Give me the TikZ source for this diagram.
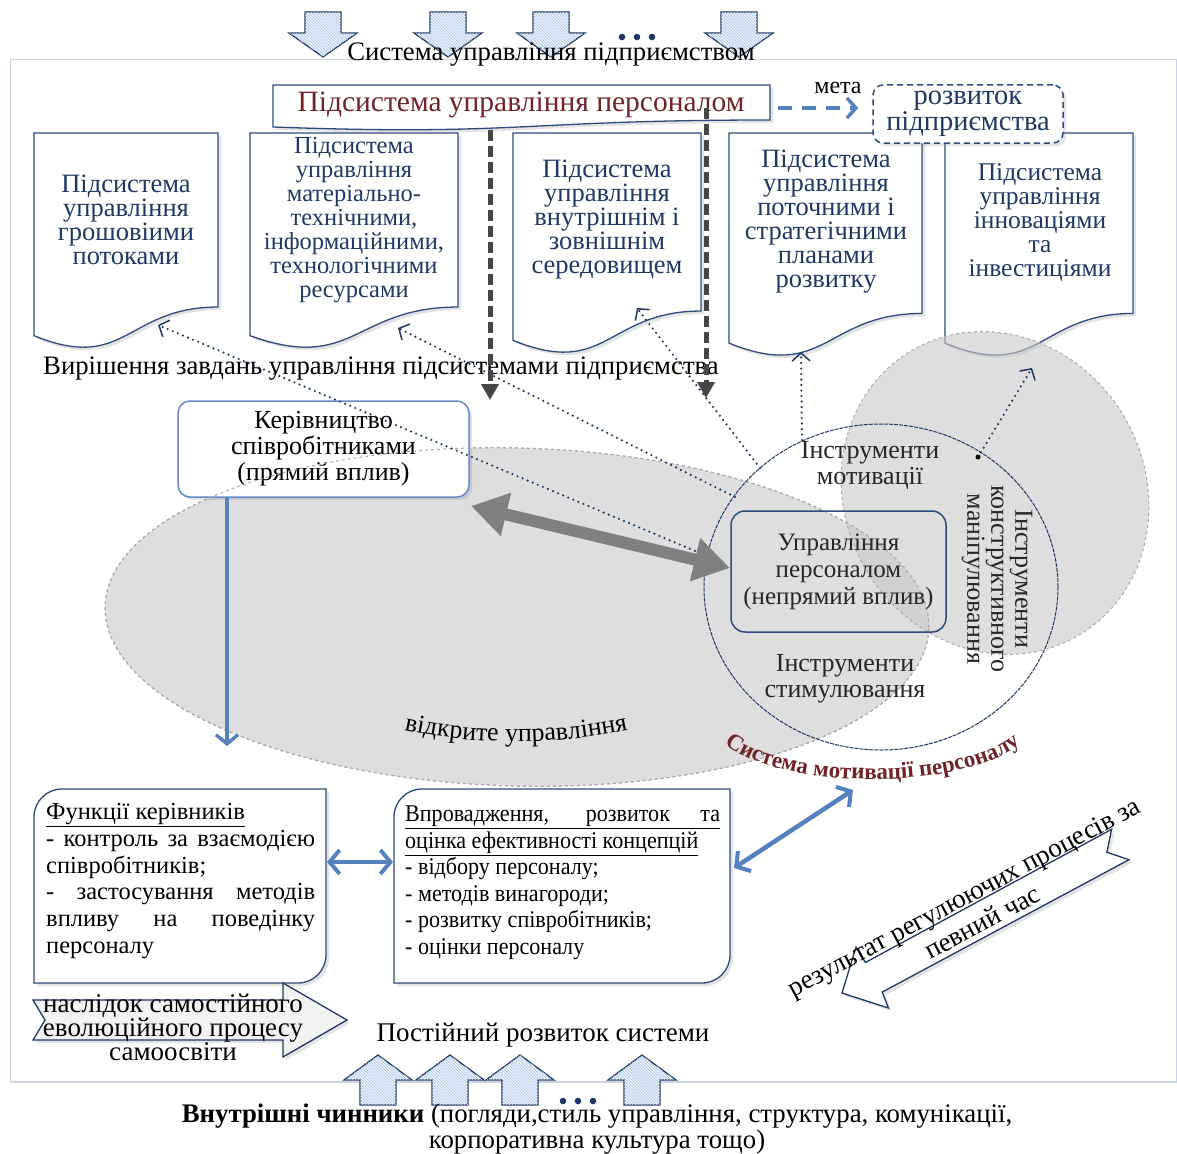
\documentclass[tikz,border=0pt]{standalone}
\usepackage{fontspec}
\setmainfont{Liberation Serif}
\newfontfamily\condfont[FakeStretch=0.92]{Liberation Serif}
\usetikzlibrary{arrows.meta,patterns,decorations.text,shadows}
\definecolor{dnavy}{RGB}{31,56,100}
\definecolor{bnavy}{RGB}{45,75,125}
\definecolor{lblue}{RGB}{84,130,190}
\definecolor{kblue}{RGB}{95,140,200}
\definecolor{dred}{RGB}{112,36,40}
\definecolor{ellgray}{RGB}{200,200,200}
\definecolor{elldraw}{RGB}{170,170,170}
\definecolor{dgray}{RGB}{70,70,70}
\definecolor{mgray}{RGB}{128,128,128}
\definecolor{hatchbg}{RGB}{236,242,250}
\definecolor{hatchln}{RGB}{170,195,225}
\definecolor{framec}{RGB}{200,212,230}
\definecolor{arrbg}{RGB}{242,242,242}
\newcommand\fsz[2]{\fontsize{#1}{#2}\selectfont}
\newcommand\docshape[4]{\draw[docbox] (#1,#3) -- (#2,#3) -- (#2,{#3+0.802*#4}) .. controls ({(#1+#2)/2},{#3+0.802*#4}) and ({(#1+#2)/2},{#3+1.107*#4}) .. (#1,{#3+0.934*#4}) -- cycle;}
\newcommand\blkdown[2]{\draw[blk] ({#1-18},#2) -- ({#1+18},#2) -- ({#1+18},{#2+21}) -- ({#1+34},{#2+21}) -- (#1,{#2+45}) -- ({#1-34},{#2+21}) -- ({#1-18},{#2+21}) -- cycle;}
\newcommand\blkup[2]{\draw[blk] ({#1-18},#2) -- ({#1+18},#2) -- ({#1+18},{#2-25}) -- ({#1+34},{#2-25}) -- (#1,{#2-50}) -- ({#1-34},{#2-25}) -- ({#1-18},{#2-25}) -- cycle;}
\tikzset{
  blk/.style={draw=dnavy, line width=1.3pt, fill=hatchbg, postaction={pattern=north west lines, pattern color=hatchln}},
  shad/.style={drop shadow={opacity=0.22, shadow xshift=3pt, shadow yshift=-3pt}},
  docbox/.style={draw=bnavy, line width=1.3pt, fill=white, shad},
  doctext/.style={text=dnavy, align=center, font=\fsz{26.5}{24}},
  plaintext/.style={text=black, align=center, font=\fsz{26}{26}},
  dotarr/.style={dnavy, line width=2.4pt, line cap=round, dash pattern=on 0pt off 5.5pt, -{Straight Barb[length=8pt,width=18pt,line width=1.5pt]}},
  gdash/.style={dgray, line width=5pt, dash pattern=on 11pt off 5pt, -{Triangle[length=16pt,width=17pt]}},
  bluearr/.style={lblue, line width=4.5pt, {Straight Barb[length=10pt,width=24pt,line width=4pt]}-{Straight Barb[length=10pt,width=24pt,line width=4pt]}},
  ell/.style={fill=ellgray, fill opacity=0.6, draw=elldraw, dashed, line width=1pt}
}
\begin{document}
\begin{tikzpicture}[x=1pt,y=-1pt]
\useasboundingbox (0,0) rectangle (1177,1153);
% frame
\draw[framec, line width=1pt, fill=white, drop shadow={opacity=0.35, shadow xshift=1pt, shadow yshift=-2pt}] (10,60) rectangle (1176,1081);
% top arrows
\blkdown{323}{12}
\blkdown{448}{12}
\blkdown{551}{12}
\blkdown{739}{12}
\foreach \xx in {622,637,652} \fill[dnavy] (\xx,37) circle (3.3pt);
\node[plaintext, font=\fsz{26.7}{27}] (sysent) at (551,55) {Система управління підприємством};
% documents
\docshape{34}{218}{133}{217}
\docshape{250}{458}{133}{217}
\docshape{513}{701}{133}{222}
\docshape{729}{922}{133}{225}
\docshape{945}{1133}{133}{225}
\node[doctext] (d1t) at (126,220) {Підсистема\\управління\\грошовіими\\потоками};
\node[doctext, font=\fsz{24.5}{24}] (d2t) at (354,220) {Підсистема\\управління\\матеріально-\\технічними,\\інформаційними,\\технологічними\\ресурсами};
\node[doctext] (d3t) at (607,220) {Підсистема\\управління\\внутрішнім і\\зовнішнім\\середовищем};
\node[doctext] (d4t) at (826,222) {Підсистема\\управління\\поточними і\\стратегічними\\планами\\розвитку};
\node[doctext, font=\fsz{25.5}{24}] (d5t) at (1040,223) {Підсистема\\управління\\інноваціями\\та\\інвестиціями};
% personnel subsystem box
\draw[docbox] (273,85) -- (770,85) -- (770,120) .. controls (521,120) and (521,136) .. (273,127) -- cycle;
\node[font=\fsz{29.5}{30}, text=dred] (hrsub) at (521,105) {Підсистема управління персоналом};
% goal
\node[draw=bnavy, dash pattern=on 6pt off 4pt, line width=1.5pt, rounded corners=10pt, minimum width=190pt, minimum height=58pt, inner sep=1pt, align=center, text=dnavy, font=\fsz{28.5}{26}, fill=white, shad] (goal) at (968,114) {розвиток\\підприємства};
\node[font=\fsz{24}{24}] (meta) at (838,88) {мета};
\coordinate (hrR) at (778,108);
\draw[lblue, line width=4pt, dash pattern=on 14pt off 10pt, shorten >=14pt, -{Straight Barb[length=9pt,width=20pt,line width=3.5pt]}] (hrR) -- (hrR -| goal.west);
% ellipses
\draw[ell, rotate around={-1.5:(517,617)}] (517,617) ellipse [x radius=412pt, y radius=169pt];
\draw[ell, rotate around={30:(995,493)}] (995,493) ellipse [x radius=150pt, y radius=165pt];
% direct management box
\node[draw=kblue, line width=1.5pt, rounded corners=12pt, fill=white, minimum width=291pt, minimum height=96pt, align=center, font=\fsz{26}{26}, shad] (ker) at (323.5,449) {Керівництво\\співробітниками\\(прямий вплив)};
\draw[elldraw, dashed, line width=1pt, rotate around={-1.5:(517,617)}] (517,617) ellipse [x radius=412pt, y radius=169pt];
% motivation circle
\draw[dnavy, line width=1pt, dash pattern=on 4pt off 1pt] (881,587) ellipse [x radius=177pt, y radius=163pt];
\node[draw=bnavy, line width=1.5pt, rounded corners=14pt, minimum width=215pt, minimum height=121pt, align=center, font=\fsz{25}{27}, text=black!85] (upr) at (838.5,571.5) {Управління\\персоналом\\(непрямий вплив)};
\node[plaintext, text=black!85] (imot) at (870,465) {Інструменти\\мотивації};
\node[plaintext, text=black!85] (istim) at (845,679) {Інструменти\\стимулювання};
\node[plaintext, text=black!85, rotate=-90, font=\fsz{26}{24}] (imanip) at (997,579) {Інструменти\\конструктивного\\маніпулювання};
% tasks text
\node[plaintext, font=\fsz{26.7}{27}] (tasks) at (381,369) {Вирішення завдань управління підсистемами підприємства};
% gray dashed arrows
\coordinate (g1s) at (490,130); \coordinate (g1e) at (490,400);
\coordinate (g2s) at (706,108); \coordinate (g2e) at (706,398);
\draw[gdash] (g1s) -- (g1e);
\draw[gdash] (g2s) -- (g2e);
% dotted arrows
\coordinate (t1) at (158,325); \coordinate (s1) at (700,553);
\coordinate (t2) at (398,328); \coordinate (s2) at (735,497);
\coordinate (t3) at (637,308); \coordinate (s3) at (760,468);
\coordinate (t4) at (801,352); \coordinate (s4) at (802,440);
\coordinate (t5) at (1032,368); \coordinate (s5) at (978,457);
\draw[dotarr] (s1) -- (t1);
\draw[dotarr] (s2) -- (t2);
\draw[dotarr] (s3) -- (t3);
\draw[dotarr] (s4) -- (t4);
\draw[dotarr] (s5) -- (t5);
\fill[black] (s5) circle (2.5pt);
% big gray double arrow
\coordinate (bgL) at (471,506); \coordinate (bgR) at (730,568);
\draw[mgray, line width=12pt, {Triangle[length=36pt,width=42pt]}-{Triangle[length=36pt,width=42pt]}] (bgL) -- (bgR);
% blue arrow down
\coordinate (kdbot) at (227,746);
\draw[lblue, line width=4pt, -{Straight Barb[length=9pt,width=22pt,line width=3.5pt]}] (kdbot |- ker.south) -- (kdbot);
% bottom boxes
\draw[docbox] (34,817) .. controls (34,801.5) and (46.5,789) .. (62,789) -- (326,789) -- (326,955) .. controls (326,970.5) and (313.5,983) .. (298,983) -- (34,983) -- cycle;
\draw[docbox] (394,817) .. controls (394,801.5) and (406.5,789) .. (422,789) -- (730,789) -- (730,955) .. controls (730,970.5) and (717.5,983) .. (702,983) -- (394,983) -- cycle;
\node[anchor=north west, text width=269pt, align=justify, inner sep=0pt, font=\fsz{24.5}{26.8}] (funtxt) at (46,803) {\underline{Функції керівників}\\- контроль за взаємодією\linebreak співробітників;\\- застосування методів\linebreak впливу на поведінку\linebreak персоналу};
\node[anchor=north west, text width=315pt, align=justify, inner sep=0pt, font=\condfont\fsz{24}{26.5}] (impltxt) at (405,806) {\underline{\makebox[315pt][s]{Впровадження, розвиток та}}\\\underline{оцінка ефективності концепцій}\\- відбору персоналу;\\- методів винагороди;\\- розвитку співробітників;\\- оцінки персоналу};
\coordinate (b1e) at (327,862); \coordinate (b2w) at (393,862);
\draw[bluearr] (b1e) -- (b2w);
\coordinate (b2r) at (734,868); \coordinate (circb) at (853,790);
\draw[bluearr] (b2r) -- (circb);
% left notched arrow
\draw[draw=dnavy, line width=1.3pt, fill=arrbg, shad] (33,1000) -- (283,1000) -- (283,983) -- (347,1020) -- (283,1057) -- (283,1040) -- (33,1040) -- (45,1020) -- cycle;
\node[plaintext, font=\fsz{27}{24}] (selfedu) at (173,1027) {наслідок самостійного\\еволюційного процесу\\самоосвіти};
\node[plaintext, font=\fsz{27}{27}] (constdev) at (543,1035) {Постійний розвиток системи};
% right result arrow
\begin{scope}[shift={(981,918)}, rotate=28]
\draw[draw=dnavy, line width=1.3pt, fill=white, shad] (157,-17) -- (142,1) -- (158,18) -- (-122,19) -- (-124,36) -- (-158,1) -- (-124,-33) -- (-123,-15) -- cycle;
\node[transform shape, font=\fsz{27}{27}] (resl1) at (-5,-24) {результат регулюючих процесів за};
\node[transform shape, font=\fsz{27}{27}] (resl2) at (-1,4) {певний час};
\end{scope}
% bottom arrows
\blkup{378}{1105}
\blkup{450}{1105}
\blkup{520}{1105}
\blkup{642}{1105}
\foreach \xx in {563,578,593} \fill[dnavy] (\xx,1101) circle (3.3pt);
\node[plaintext, font=\fsz{26.8}{23}] (inner) at (597,1129) {\textbf{Внутрішні чинники} (погляди,стиль управління, структура, комунікації,\\корпоративна культура тощо)};
% curved texts
\path[decorate, decoration={text along path, text={|\fsz{26}{26}|відкрите управління}, text align=center}] (395,728) .. controls (470,746) and (560,746) .. (637,728);
\path[decorate, decoration={text along path, text={|\fsz{23}{23}\bfseries|Система мотивації персоналу}, text color=dred, text align=center}] (718,738) .. controls (770,793) and (975,793) .. (1027,738);
\end{tikzpicture}
\end{document}
